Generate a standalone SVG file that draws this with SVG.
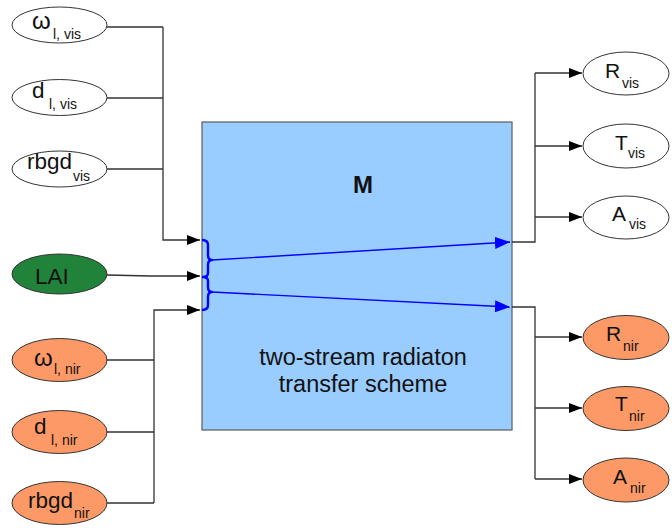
<svg xmlns="http://www.w3.org/2000/svg" width="672" height="529" viewBox="0 0 672 529">
  <style>
    .vis { fill: #ffffff; stroke: #333333; stroke-width: 1; }
    .nir { fill: #fd9966; stroke: #333333; stroke-width: 1; }
    .lai { fill: #21823a; stroke: #333333; stroke-width: 1; }
    .main { font-family: "Liberation Sans", Arial, sans-serif; font-size: 22.5px; fill: #111111; }
    .omega { font-size: 24px; }
    .out { font-size: 21px; }
    .sub { font-size: 14px; }
    .wire { fill: none; stroke: #333333; stroke-width: 1.3; }
    .flow { fill: none; stroke: #0000ff; stroke-width: 1.4; }
    .brace { fill: none; stroke: #0000ff; stroke-width: 2.4; stroke-linejoin: round; }
    .title { font-family: "Liberation Sans", Arial, sans-serif; font-size: 24px; font-weight: bold; fill: #111111; text-anchor: middle; }
    .label { font-family: "Liberation Sans", Arial, sans-serif; font-size: 23.5px; fill: #111111; text-anchor: middle; }
  </style>
  <defs>
    <marker id="arrow" markerUnits="userSpaceOnUse" markerWidth="14" markerHeight="10" refX="13" refY="5" orient="auto">
      <path d="M0,0 L13,5 L0,10 Z" fill="#000000"/>
    </marker>
    <marker id="arrowBlue" markerUnits="userSpaceOnUse" markerWidth="16" markerHeight="12" refX="15" refY="6" orient="auto">
      <path d="M0,0 L15,6 L0,12 Z" fill="#0000ff"/>
    </marker>
  </defs>

  <!-- model block -->
  <g id="model">
    <rect x="202" y="122" width="310" height="308" fill="#99ccff" stroke="#666666" stroke-width="1.3"/>
    <text class="title" x="363" y="193">M</text>
    <text class="label" x="363" y="365">two-stream radiaton</text>
    <text class="label" x="363" y="392">transfer scheme</text>
  </g>

  <!-- connectors -->
  <g id="connectors">
    <!-- visible inputs -->
    <path class="wire" d="M107,27 H163 M107,98 H163 M107,169 H163 M163,27 V240 H200" marker-end="url(#arrow)"/>
    <!-- LAI -->
    <path class="wire" d="M107,275 L150,276 H200" marker-end="url(#arrow)"/>
    <!-- near-infrared inputs -->
    <path class="wire" d="M107,360 H154 M107,432 H154 M107,503 H154 M154,503 V310 H200" marker-end="url(#arrow)"/>
    <!-- braces grouping the inputs -->
    <path class="brace" d="M202,240 Q208,240 208,245 V255 Q208,260 212,260 Q208,260 208,265 V273 Q208,277 203,277 Q208,277 208,281 V287 Q208,292 212,292 Q208,292 208,297 V305 Q208,310 202,310"/>
    <!-- internal flows -->
    <path class="flow" d="M212,260 L510,242" marker-end="url(#arrowBlue)"/>
    <path class="flow" d="M212,292 L510,307" marker-end="url(#arrowBlue)"/>
    <!-- visible outputs -->
    <path class="wire" d="M512,242 H535 V73"/>
    <path class="wire" d="M535,73 H582" marker-end="url(#arrow)"/>
    <path class="wire" d="M535,146 H582" marker-end="url(#arrow)"/>
    <path class="wire" d="M535,217 H582" marker-end="url(#arrow)"/>
    <!-- near-infrared outputs -->
    <path class="wire" d="M512,307 H535 V479"/>
    <path class="wire" d="M535,337 H582" marker-end="url(#arrow)"/>
    <path class="wire" d="M535,408 H582" marker-end="url(#arrow)"/>
    <path class="wire" d="M535,479 H582" marker-end="url(#arrow)"/>
  </g>

  <!-- inputs -->
  <g id="omega-vis">
    <ellipse class="vis" cx="59.5" cy="25" rx="47.5" ry="18"/>
    <text class="main omega" x="32" y="29">ω<tspan class="sub" x="53" y="39">l, vis</tspan></text>
  </g>
  <g id="d-vis">
    <ellipse class="vis" cx="59.5" cy="97.5" rx="47.5" ry="18"/>
    <text class="main" x="32" y="98">d<tspan class="sub" x="49" y="109">l, vis</tspan></text>
  </g>
  <g id="rbgd-vis">
    <ellipse class="vis" cx="59.5" cy="169" rx="47.5" ry="18"/>
    <text class="main" x="27" y="169">rbgd<tspan class="sub" x="73" y="181">vis</tspan></text>
  </g>
  <g id="lai">
    <ellipse class="lai" cx="59.5" cy="274" rx="47.5" ry="20"/>
    <text class="main" x="35" y="284">LAI</text>
  </g>
  <g id="omega-nir">
    <ellipse class="nir" cx="59.5" cy="360" rx="47.5" ry="21.5"/>
    <text class="main omega" x="34" y="366">ω<tspan class="sub" x="54" y="374">l, nir</tspan></text>
  </g>
  <g id="d-nir">
    <ellipse class="nir" cx="59.5" cy="432" rx="47.5" ry="21.5"/>
    <text class="main" x="34" y="434">d<tspan class="sub" x="51" y="445">l, nir</tspan></text>
  </g>
  <g id="rbgd-nir">
    <ellipse class="nir" cx="59.5" cy="503" rx="47.5" ry="21.5"/>
    <text class="main" x="28" y="508">rbgd<tspan class="sub" x="74" y="518">nir</tspan></text>
  </g>

  <!-- outputs -->
  <g id="r-vis">
    <ellipse class="vis" cx="626" cy="73.5" rx="43" ry="21.5"/>
    <text class="main out" x="605" y="78">R<tspan class="sub" x="622" y="88">vis</tspan></text>
  </g>
  <g id="t-vis">
    <ellipse class="vis" cx="626" cy="146" rx="43" ry="22"/>
    <text class="main out" x="615" y="150">T<tspan class="sub" x="628" y="158">vis</tspan></text>
  </g>
  <g id="a-vis">
    <ellipse class="vis" cx="626" cy="217.5" rx="43" ry="21.5"/>
    <text class="main out" x="612" y="221">A<tspan class="sub" x="629" y="229">vis</tspan></text>
  </g>
  <g id="r-nir">
    <ellipse class="nir" cx="626" cy="337.5" rx="43" ry="22"/>
    <text class="main out" x="606" y="341">R<tspan class="sub" x="623" y="351">nir</tspan></text>
  </g>
  <g id="t-nir">
    <ellipse class="nir" cx="626" cy="408.5" rx="43" ry="22"/>
    <text class="main out" x="615" y="411">T<tspan class="sub" x="629" y="421">nir</tspan></text>
  </g>
  <g id="a-nir">
    <ellipse class="nir" cx="626" cy="480" rx="43" ry="22"/>
    <text class="main out" x="613" y="484">A<tspan class="sub" x="630" y="493">nir</tspan></text>
  </g>
</svg>
